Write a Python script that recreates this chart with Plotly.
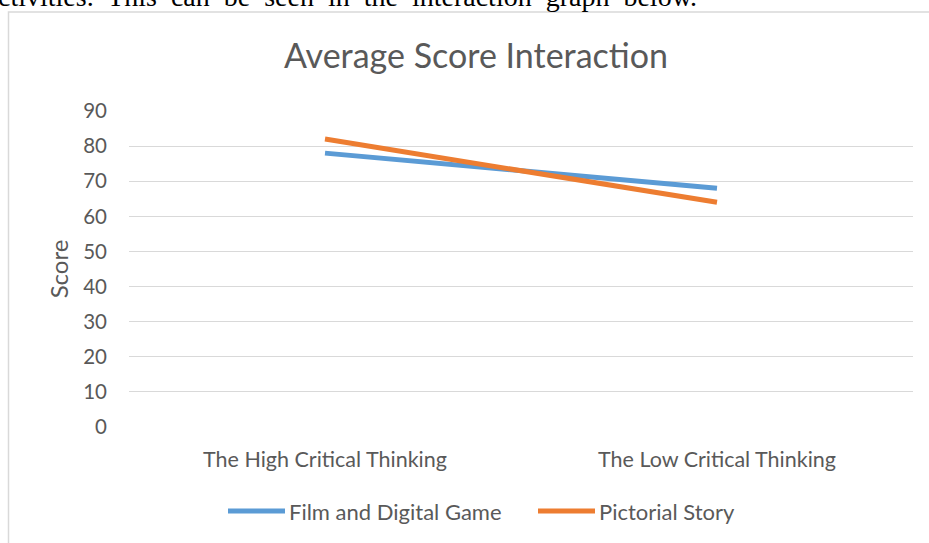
import plotly.graph_objects as go

categories = ["The High Critical Thinking", "The Low Critical Thinking"]
series_names = ["Film and Digital Game", "Pictorial Story"]
film_game = [78, 68]
pictorial = [82, 64]
y_ticks = [0, 10, 20, 30, 40, 50, 60, 70, 80, 90]
title = "Average Score Interaction"
y_title = "Score"
caption = "ctivities. This can be seen in the interaction graph below."

colors = ["#5b9bd5", "#ed7d31"]
W, H = 929, 543
FONT = "Lato, Open Sans, sans-serif"
GREY = "#595959"

def px(x):
    return x / W

def py(y):
    return 1 - y / H

fig = go.Figure()
for name, vals, c in zip(series_names, [film_game, pictorial], colors):
    fig.add_trace(go.Scatter(x=categories, y=vals, mode="lines", name=name,
                             line=dict(color=c, width=5), showlegend=False,
                             hoverinfo="skip"))

# chart frame
fig.add_shape(type="rect", xref="paper", yref="paper",
              x0=px(8.5), x1=px(940), y0=py(560), y1=py(12),
              line=dict(color="#d9d9d9", width=1.5), layer="below")

# custom legend
leg = [(228, 285, 287), (538, 595, 597)]
for (x0, x1, tx), name, c in zip(leg, series_names, colors):
    fig.add_shape(type="line", xref="paper", yref="paper",
                  x0=px(x0), x1=px(x1), y0=py(511), y1=py(511),
                  line=dict(color=c, width=5))
    fig.add_annotation(text=name, xref="paper", yref="paper",
                       x=px(tx), y=py(511), xanchor="left", yanchor="middle",
                       showarrow=False, font=dict(family=FONT, size=22, color=GREY))

# caption text from surrounding (justified) document, cut at the top
caption_display = caption.replace(" ", "&nbsp; ")
fig.add_annotation(text=caption_display, xref="paper", yref="paper", x=px(-4), y=py(14),
                   xanchor="left", yanchor="bottom", showarrow=False,
                   font=dict(family="Liberation Serif, serif", size=28, color="#000000"))

fig.update_layout(
    width=W, height=H,
    margin=dict(l=0, r=0, t=0, b=0, autoexpand=False),
    paper_bgcolor="white", plot_bgcolor="white",
    title=dict(text=title, x=476 / W, xanchor="center", y=py(56), yanchor="middle",
               font=dict(family=FONT, size=34, color=GREY)),
    xaxis=dict(domain=[px(129), px(913)], range=[-0.5, 1.5], showgrid=False,
               showline=False, ticks="", automargin=False,
               tickfont=dict(family=FONT, size=21.5, color=GREY),
               ticklabelstandoff=17),
    yaxis=dict(domain=[py(427), py(111)], range=[0, 90], tickvals=y_ticks,
               showgrid=True, gridcolor="#d9d9d9", gridwidth=1.3,
               zeroline=False, showline=False, ticks="", automargin=False,
               tickfont=dict(family=FONT, size=20.5, color=GREY),
               ticklabelstandoff=21,
               title=dict(text=y_title, font=dict(family=FONT, size=24, color=GREY),
                          standoff=7)),
    showlegend=False,
    hovermode=False,
)

fig.write_html("out.html", config={"displayModeBar": False},
               post_script="document.body.style.margin='0';")
